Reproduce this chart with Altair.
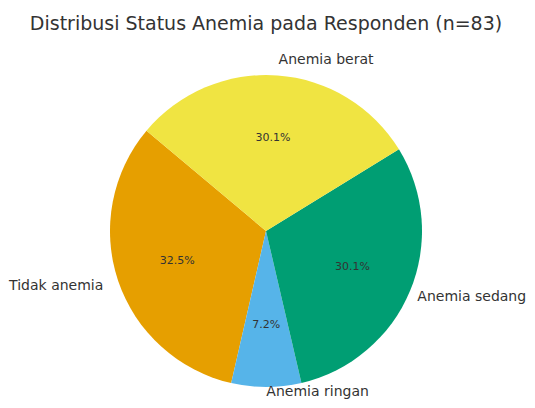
import math
import altair as alt
import pandas as pd

categories = ["Tidak anemia", "Anemia ringan", "Anemia sedang", "Anemia berat"]
counts = [27, 6, 25, 25]
colors = ["#E69F00", "#56B4E9", "#009E73", "#F0E442"]
draw_order = [3, 2, 1, 0]          # clockwise drawing order in Vega
label_side = ["right", "bottom", "edge", "left"]

total = sum(counts)
df = pd.DataFrame({
    "cat": categories,
    "n": counts,
    "ord": draw_order,
    "pct": [f"{c / total * 100:.1f}%" for c in counts],
    "lab_left": [c if s == "left" else "" for c, s in zip(categories, label_side)],
    "lab_edge": [c if s == "edge" else "" for c, s in zip(categories, label_side)],
    "lab_right": [c if s == "right" else "" for c, s in zip(categories, label_side)],
    "lab_bottom": [c if s == "bottom" else "" for c, s in zip(categories, label_side)],
})

start = math.radians(310)
theta_scale = alt.Scale(range=[start, start + 2 * math.pi])
R = 156
FONT = "DejaVu Sans"
TXT = "#333333"

base = alt.Chart(df).encode(
    theta=alt.Theta("n:Q", stack=True, scale=theta_scale),
    order=alt.Order("ord:Q"),
)

arcs = base.mark_arc(outerRadius=R, strokeWidth=0).encode(
    color=alt.Color("cat:N", scale=alt.Scale(domain=categories, range=colors), legend=None)
)

pct = base.mark_text(radius=R * 0.6, font=FONT, fontSize=11, color=TXT,
                     align="center", baseline="middle").encode(text="pct:N")

lab_l = base.mark_text(radius=R * 1.1, font=FONT, fontSize=14, color=TXT,
                       align="left", baseline="middle").encode(text="lab_left:N")
lab_e = base.mark_text(radius=R * 1.1, font=FONT, fontSize=14, color=TXT,
                       align="left", baseline="middle", dx=-7).encode(text="lab_edge:N")
lab_r = base.mark_text(radius=R * 1.1, font=FONT, fontSize=14, color=TXT,
                       align="right", baseline="middle").encode(text="lab_right:N")
lab_b = base.mark_text(radius=R * 1.1, font=FONT, fontSize=14, color=TXT,
                       align="left", baseline="bottom", dy=-4).encode(text="lab_bottom:N")

chart = alt.layer(arcs, pct, lab_l, lab_e, lab_r, lab_b).properties(
    width=516,
    height=326,
    padding={"left": 0, "top": 60, "right": 3, "bottom": 6},
    autosize=alt.AutoSizeParams(type="none"),
    title=alt.TitleParams(
        "Distribusi Status Anemia pada Responden (n=83)",
        font=FONT, fontSize=19, fontWeight="normal", color=TXT,
        anchor="middle", baseline="alphabetic", offset=4, dy=11, frame="group",
    ),
).configure_view(stroke=None)

chart.save("out.html", embed_options={"renderer": "svg", "actions": False})
